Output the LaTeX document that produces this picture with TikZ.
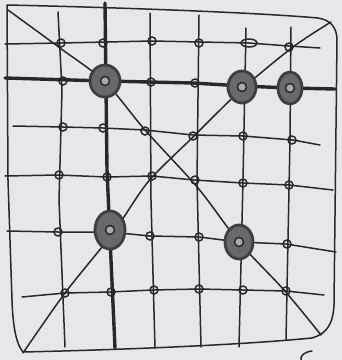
\documentclass[tikz,border=0pt]{standalone}
\definecolor{paper}{RGB}{229,231,235}
\definecolor{ink}{RGB}{40,40,44}
\definecolor{blob}{RGB}{105,105,109}
\definecolor{blobrim}{RGB}{62,62,66}
\definecolor{hole}{RGB}{170,170,174}
\tikzset{
  pen/.style={draw=ink, line width=1.5pt, line join=round, line cap=round},
  thickpen/.style={draw=ink, line width=3.4pt, line join=round, line cap=round},
  dot/.style={draw=ink, line width=1.5pt},
  bigdot/.style={fill=blob, draw=blobrim, line width=2.8pt},
}
\begin{document}
\begin{tikzpicture}[x=1pt,y=-1pt]
\fill[paper] (0,0) rectangle (342,360);
\useasboundingbox (0,0) rectangle (342,360);
% border
\draw[pen] (7,5) .. controls (100,7) and (250,12) .. (318,18)
  .. controls (331,20) and (337,28) .. (337,40) -- (334,305)
  .. controls (333,325) and (326,334) .. (312,338)
  .. controls (250,344) and (150,349) .. (23,352);
\draw[pen] (7,5) -- (8,180) -- (12,300) .. controls (13,330) and (17,345) .. (23,352);
% diagonals
\draw[pen] plot[smooth] coordinates {(8,10) (60,48) (105,82) (145,130) (198,188) (239,242) (284,290) (321,335)};
\draw[pen] plot[smooth] coordinates {(23,353) (65,293) (113,233) (148,182) (193,137) (241,90) (293,47) (331,22)};
% rows
\draw[pen] (5,44) -- (61,43) -- (152,41) -- (249,43) -- (289,46) -- (320,48);
\draw[pen] (13,126) -- (63,127) -- (103,128) -- (145,130) -- (193,135) -- (243,136) -- (293,140) -- (320,145);
\draw[pen] (5,176) -- (58,175) -- (107,177) -- (152,176) -- (194,180) -- (243,183) -- (289,185) -- (333,190);
\draw[pen] (7,231) -- (58,232) -- (110,232) -- (150,236) -- (199,237) -- (239,242) -- (286,244) -- (336,252);
\draw[pen] (22,297) -- (65,293) -- (110,292) -- (153,290) -- (199,289) -- (243,290) -- (286,291) -- (324,295);
% columns
\draw[pen] (58,12) -- (62,90) -- (59,200) -- (65,347);
\draw[pen] (150,13) -- (151,200) -- (155,348);
\draw[pen] (199,15) -- (197,180) -- (201,347);
\draw[pen] (246,28) -- (243,180) -- (239,347);
\draw[pen] (291,27) -- (290,140) -- (286,340);
% thick lines
\draw[thickpen] (5,78) -- (105,81) -- (193,83) -- (242,86) -- (290,88) -- (335,89);
\draw[thickpen] (105,3) -- (107,170) -- (111,260) -- (115,348);
% small circles
\foreach \p in {(61,43),(103,43),(152,41),(199,43),(289,47),
  (63,81),(151,82),(195,83),
  (63,127),(103,128),(145,131),(193,136),(243,136),(292,140),
  (59,175),(107,177),(152,176),(195,180),(243,183),(289,185),
  (58,232),(150,236),(199,237),(287,244),
  (65,293),(111,292),(154,290),(199,289),(243,290),(286,291)}
  \draw[dot] \p circle[radius=4];
\draw[dot] (249,43) ellipse[x radius=8, y radius=4];
% big circles
\foreach \p/\rx/\ry in {(105,81)/15/16,(242,87)/14/16,(290,88)/12/16,(110,230)/15/19,(239,242)/14/17}{
  \draw[bigdot] \p ellipse[x radius=\rx, y radius=\ry];
  \draw[ink, line width=1.5pt, fill=hole] \p circle[radius=4.5];
}
% fragment at bottom
\draw[pen] (312,351) .. controls (304,352) and (300,356) .. (301,360);
\end{tikzpicture}
\end{document}
